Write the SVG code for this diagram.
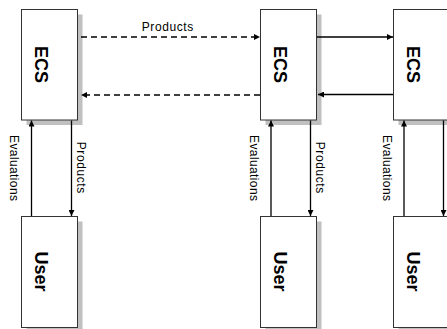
<svg xmlns="http://www.w3.org/2000/svg" width="447" height="329" viewBox="0 0 447 329">
<style>
.box{fill:#fff;stroke:#333;stroke-width:1}
.shadow{fill:#c0c0c0}
.lbl{font-family:"Liberation Sans",Arial,sans-serif;font-weight:bold;font-size:18px;text-anchor:middle;fill:#000}
.small{font-family:"Liberation Sans",Arial,sans-serif;font-size:12px;text-anchor:middle;fill:#000}
.conn{stroke:#000;stroke-width:1.3;fill:none}
.dash{stroke-dasharray:6 4}
</style>
<defs>
<marker id="ah" markerUnits="userSpaceOnUse" markerWidth="6" markerHeight="6" refX="6" refY="3" orient="auto">
<path d="M0,0 L6,3 L0,6 z" fill="#000"/>
</marker>
</defs>
<g id="ecs1">
<rect class="shadow" x="26.5" y="14.5" width="56" height="110.5"/>
<rect class="box" x="21.5" y="9.5" width="56" height="110.5"/>
<text class="lbl" transform="translate(35,64.5) rotate(90)">ECS</text>
</g>
<g id="user1">
<rect class="shadow" x="26.5" y="221.5" width="56" height="111"/>
<rect class="box" x="21.5" y="216.5" width="56" height="111"/>
<text class="lbl" transform="translate(35,271.5) rotate(90)">User</text>
</g>
<g id="ecs2">
<rect class="shadow" x="265.5" y="14.5" width="56" height="110.5"/>
<rect class="box" x="260.5" y="9.5" width="56" height="110.5"/>
<text class="lbl" transform="translate(274,64.5) rotate(90)">ECS</text>
</g>
<g id="user2">
<rect class="shadow" x="265.5" y="221.5" width="56" height="111"/>
<rect class="box" x="260.5" y="216.5" width="56" height="111"/>
<text class="lbl" transform="translate(274,271.5) rotate(90)">User</text>
</g>
<g id="ecs3">
<rect class="shadow" x="398.5" y="14.5" width="56" height="110.5"/>
<rect class="box" x="393.5" y="9.5" width="56" height="110.5"/>
<text class="lbl" transform="translate(407,64.5) rotate(90)">ECS</text>
</g>
<g id="user3">
<rect class="shadow" x="398.5" y="221.5" width="56" height="111"/>
<rect class="box" x="393.5" y="216.5" width="56" height="111"/>
<text class="lbl" transform="translate(407,271.5) rotate(90)">User</text>
</g>
<g id="connectors">
<line class="conn dash" x1="81" y1="37" x2="260" y2="37" marker-end="url(#ah)"/>
<line class="conn dash" x1="260" y1="95" x2="81" y2="95" marker-end="url(#ah)"/>
<line class="conn" x1="317" y1="37" x2="393" y2="37" marker-end="url(#ah)"/>
<line class="conn" x1="393" y1="94.5" x2="318" y2="94.5" marker-end="url(#ah)"/>
<line class="conn" x1="31.5" y1="216" x2="31.5" y2="120.5" marker-end="url(#ah)"/>
<line class="conn" x1="71.5" y1="120.5" x2="71.5" y2="216" marker-end="url(#ah)"/>
<line class="conn" x1="271" y1="216" x2="271" y2="120.5" marker-end="url(#ah)"/>
<line class="conn" x1="310.5" y1="120.5" x2="310.5" y2="216" marker-end="url(#ah)"/>
<line class="conn" x1="404" y1="216" x2="404" y2="120.5" marker-end="url(#ah)"/>
<line class="conn" x1="443.5" y1="120.5" x2="443.5" y2="216" marker-end="url(#ah)"/>
<text class="small" x="167.5" y="30.5" textLength="51.5">Products</text>
<text class="small" transform="translate(9.5,168) rotate(90)" textLength="66">Evaluations</text>
<text class="small" transform="translate(76.5,167.5) rotate(90)" textLength="51.5">Products</text>
<text class="small" transform="translate(249.5,168) rotate(90)" textLength="66">Evaluations</text>
<text class="small" transform="translate(315.5,167.5) rotate(90)" textLength="51.5">Products</text>
<text class="small" transform="translate(382.5,168) rotate(90)" textLength="66">Evaluations</text>
</g>
</svg>
